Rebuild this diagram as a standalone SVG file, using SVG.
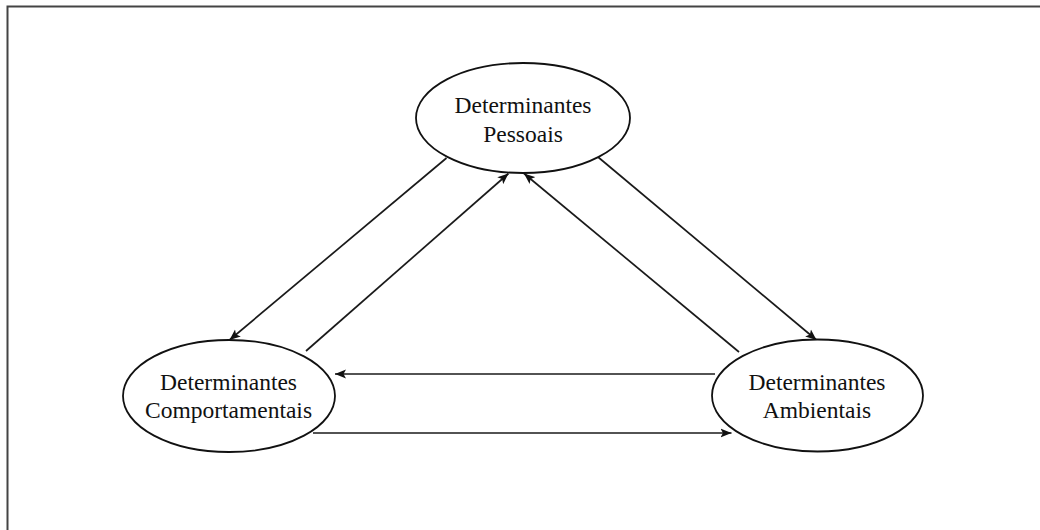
<svg xmlns="http://www.w3.org/2000/svg" width="1040" height="530" viewBox="0 0 1040 530">
<style>
.frame{fill:none;stroke:#444;stroke-width:2}
.node ellipse{fill:#fff;stroke:#111;stroke-width:1.8}
.node text{font-family:"Liberation Serif","Times New Roman",serif;font-size:23.5px;fill:#111;text-anchor:middle}
.conn line{stroke:#1a1a1a;stroke-width:1.7;marker-end:url(#ah)}
</style>
<defs>
<marker id="ah" viewBox="0 0 11 10" refX="11" refY="5" markerWidth="11" markerHeight="10" markerUnits="userSpaceOnUse" orient="auto">
<path d="M0,0.5 L11,5 L0,9.5 L2.5,5 Z" fill="#111"/>
</marker>
</defs>
<rect width="1040" height="530" fill="#fff"/>
<path class="frame" d="M7.5,540 V6.5 H1050"/>
<g class="conn">
<line x1="446.5" y1="158" x2="229.5" y2="340"/>
<line x1="306" y1="351" x2="508.5" y2="173.5"/>
<line x1="739" y1="352" x2="524" y2="173.5"/>
<line x1="598" y1="157" x2="816.5" y2="340"/>
<line x1="715" y1="374" x2="335" y2="374"/>
<line x1="313" y1="433" x2="731.5" y2="433"/>
</g>
<g class="node" id="pessoais">
<ellipse cx="523" cy="118" rx="107" ry="55"/>
<text x="523" y="113">Determinantes</text>
<text x="523" y="142">Pessoais</text>
</g>
<g class="node" id="comportamentais">
<ellipse cx="229" cy="396" rx="106" ry="56"/>
<text x="228.5" y="390">Determinantes</text>
<text x="228.5" y="418">Comportamentais</text>
</g>
<g class="node" id="ambientais">
<ellipse cx="817.5" cy="395.5" rx="105.5" ry="56"/>
<text x="817" y="390">Determinantes</text>
<text x="817" y="418">Ambientais</text>
</g>
</svg>
